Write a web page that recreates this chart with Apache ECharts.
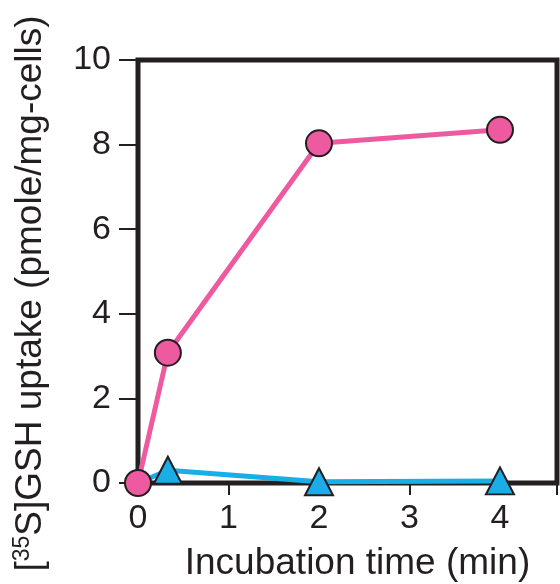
<!DOCTYPE html>
<html><head><meta charset="utf-8">
<script src="https://cdn.jsdelivr.net/npm/echarts@6/dist/echarts.min.js"></script>
<style>html,body{margin:0;padding:0;background:#fff}#c{width:560px;height:584px}</style>
</head><body><div id="c"></div>
<script>
const timeMin = [0, 0.33, 2, 4];
const glutathioneUptake = [0, 3.08, 8.03, 8.35];
const controlUptake = [0, 0.3, 0.03, 0.05];
const yTicks = [0, 2, 4, 6, 8, 10];
const xTicks = [0, 1, 2, 3, 4];

const FONT = '"Liberation Sans", Arial, Helvetica, sans-serif';
const INK = '#231f20';
const chart = echarts.init(document.getElementById('c'));
chart.setOption({
  animation: false,
  grid: {left: 138, right: 3, top: 60, bottom: 101, show: true, borderColor: INK, borderWidth: 5,
         backgroundColor: 'transparent', outerBoundsMode: 'none', containLabel: false},
  xAxis: {
    type: 'value', min: 0, max: 4.63, interval: 1,
    axisLine: {show: false},
    axisTick: {show: true, length: 12, lineStyle: {color: INK, width: 2}},
    splitLine: {show: false},
    axisLabel: {fontFamily: FONT, fontSize: 34, color: INK, margin: 19,
      formatter: v => xTicks.includes(v) ? String(v) : ''},
    name: 'Incubation time (min)', nameLocation: 'middle', nameGap: 62,
    nameTextStyle: {fontFamily: FONT, fontSize: 37, color: INK, padding: [0, 0, 0, 20]}
  },
  yAxis: {
    type: 'value', min: 0, max: 10, interval: 2,
    axisLine: {show: false},
    axisTick: {show: true, length: 19, lineStyle: {color: INK, width: 2}},
    splitLine: {show: false},
    axisLabel: {fontFamily: FONT, fontSize: 34, color: INK, margin: 27,
      formatter: v => yTicks.includes(v) ? String(v) : ''},
    name: '[{sup|35}S]GSH uptake (pmole/mg-cells)', nameLocation: 'middle', nameGap: 88, nameRotate: 90,
    nameTextStyle: {fontFamily: FONT, fontSize: 37, color: INK, padding: [0, 44, 0, 0],
      rich: {sup: {fontFamily: FONT, fontSize: 23, color: INK, padding: [0, 0, 16, 0]}}}
  },
  series: [
    {type: 'line', data: timeMin.map((t, i) => i === 0 ? {value: [t, controlUptake[i]], symbol: 'none'} : [t, controlUptake[i]]),
     symbol: 'triangle', symbolSize: [28, 27],
     clip: false, lineStyle: {color: '#19aee6', width: 5},
     itemStyle: {color: '#19aee6', borderColor: INK, borderWidth: 2}},
    {type: 'line', data: timeMin.map((t, i) => [t, glutathioneUptake[i]]), symbol: 'circle', symbolSize: 26,
     clip: false, lineStyle: {color: '#ee5a9f', width: 5},
     itemStyle: {color: '#ee5a9f', borderColor: INK, borderWidth: 2}}
  ]
});
</script></body></html>
